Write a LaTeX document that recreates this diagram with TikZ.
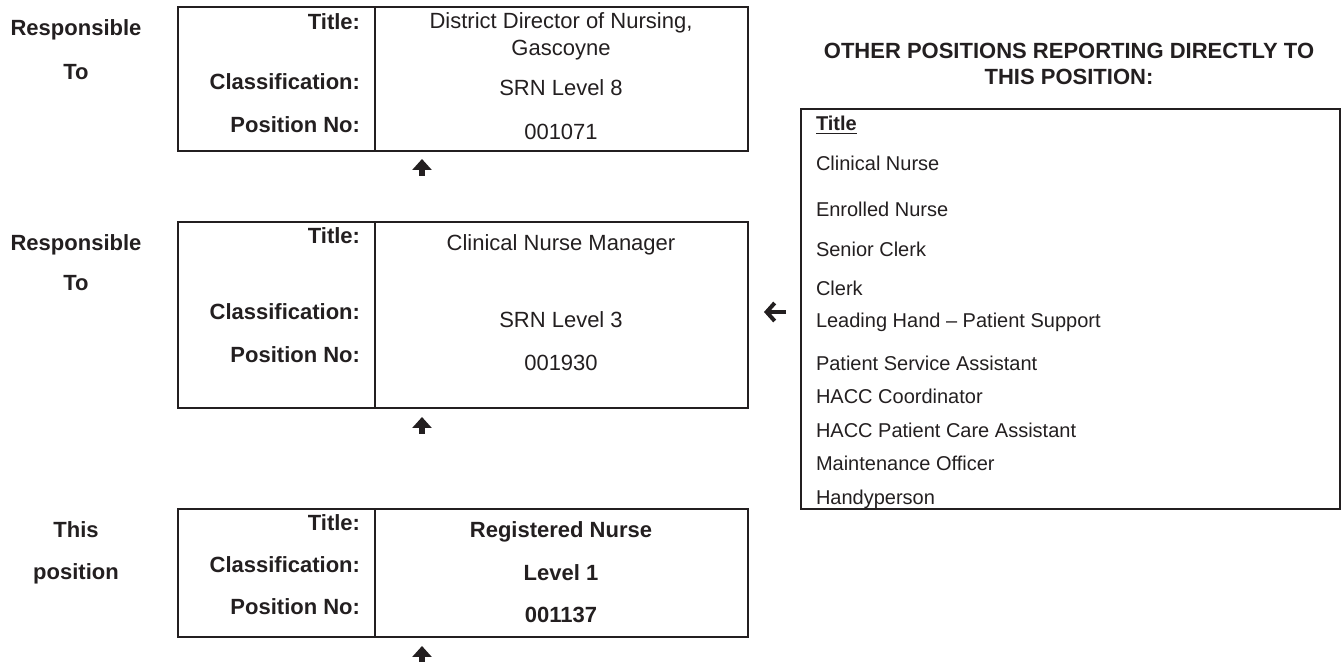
\documentclass[tikz,border=0pt]{standalone}
\usepackage{fontspec}
\setmainfont{Liberation Sans}
\usetikzlibrary{arrows.meta}
\definecolor{ink}{RGB}{35,31,32}
\begin{document}
\begin{tikzpicture}[x=0.5pt, y=-0.5pt, line width=1pt, color=ink,
  pos box/.style={rectangle,draw,line width=1pt,minimum width=285pt,inner sep=0pt,outer sep=0pt},
  field/.style={font=\bfseries\fontsize{11}{13}\selectfont,anchor=east,inner sep=0pt,text depth=0pt},
  value/.style={font=\fontsize{11}{13}\selectfont,inner sep=0pt,text depth=0pt},
  side/.style={font=\bfseries\fontsize{11}{13}\selectfont,inner sep=0pt,text depth=0pt},
  item/.style={font=\fontsize{10}{12}\selectfont,anchor=west,inner sep=0pt,text depth=0pt},
  up arrow/.style={line width=2.6pt,-{Triangle[length=5.5pt,width=9.5pt]}},
  left arrow/.style={line width=2pt,-{Straight Barb[length=4pt,width=9pt]}}]%
\useasboundingbox (0,0) rectangle (1341,662);
\coordinate (div) at (375,0);
\begin{scope}
\node[pos box,minimum height=72pt] (box1) at (463,79) {};%1
\node[pos box,minimum height=93pt] (box2) at (463,315) {};%2
\node[pos box,minimum height=64pt] (box3) at (463,573) {};%3
\node[rectangle,draw,line width=1pt,minimum width=269.5pt,minimum height=200pt,inner sep=0pt,outer sep=0pt] (others) at (1070.5,309) {};
\end{scope}
\begin{scope}
\draw (box1.north -| div) -- (box1.south -| div);
\draw (box2.north -| div) -- (box2.south -| div);
\draw (box3.north -| div) -- (box3.south -| div);
\end{scope}
% left side labels
\node[side] (resp1) at (76,28) {Responsible};
\node[side] (to1) at (76,72) {To};
\node[side] (resp2) at (76,243) {Responsible};
\node[side] (to2) at (76,283) {To};
\node[side] (this) at (76,530) {This};
\node[side] (pos) at (76,572) {position};
% box 1
\node[field] (t1) at (361,22) {Title:};
\node[field] (c1) at (361,82) {Classification:};
\node[field] (p1) at (361,125) {Position No:};
\node[value] (vt1) at (561,21) {District Director of Nursing,};
\node[value] (vt1b) at (561,48) {Gascoyne};
\node[value] (vc1) at (561,88) {SRN Level 8};
\node[value] (vp1) at (561,132) {001071};
% box 2
\node[field] (t2) at (361,236) {Title:};
\node[field] (c2) at (361,312) {Classification:};
\node[field] (p2) at (361,355) {Position No:};
\node[value] (vt2) at (561,243) {Clinical Nurse Manager};
\node[value] (vc2) at (561,320) {SRN Level 3};
\node[value] (vp2) at (561,363) {001930};
% box 3
\node[field] (t3) at (361,523) {Title:};
\node[field] (c3) at (361,565) {Classification:};
\node[field] (p3) at (361,607) {Position No:};
\node[side] (vt3) at (561,530) {Registered Nurse};
\node[side] (vc3) at (561,573) {Level 1};
\node[side] (vp3) at (561,615) {001137};
% other positions
\node[side,align=center] (head) at (1069,64) {OTHER POSITIONS REPORTING DIRECTLY TO\\THIS POSITION:};
\node[item,font=\bfseries\fontsize{10}{12}\selectfont] (r0) at (815,123) {\underline{Title}};
\node[item] (r1) at (815,163) {Clinical Nurse};
\node[item] (r2) at (815,209) {Enrolled Nurse};
\node[item] (r3) at (815,249) {Senior Clerk};
\node[item] (r4) at (815,288) {Clerk};
\node[item] (r5) at (815,320) {Leading Hand – Patient Support};
\node[item] (r6) at (815,363) {Patient Service Assistant};
\node[item] (r7) at (815,396) {HACC Coordinator};
\node[item] (r8) at (815,430) {HACC Patient Care Assistant};
\node[item] (r9) at (815,463) {Maintenance Officer};
\node[item] (r10) at (815,497) {Handyperson};
% arrows
\coordinate (u1a) at (422,176);
\coordinate (u1b) at (422,159);
\coordinate (u2a) at (422,434);
\coordinate (u2b) at (422,417);
\coordinate (u3a) at (422,662);
\coordinate (u3b) at (422,646);
\coordinate (la) at (786,312);
\coordinate (lb) at (764,312);
\draw[up arrow] (u1a) -- (u1b);
\draw[up arrow] (u2a) -- (u2b);
\draw[up arrow] (u3a) -- (u3b);
\draw[left arrow] (la) -- (lb);
\end{tikzpicture}
\end{document}
